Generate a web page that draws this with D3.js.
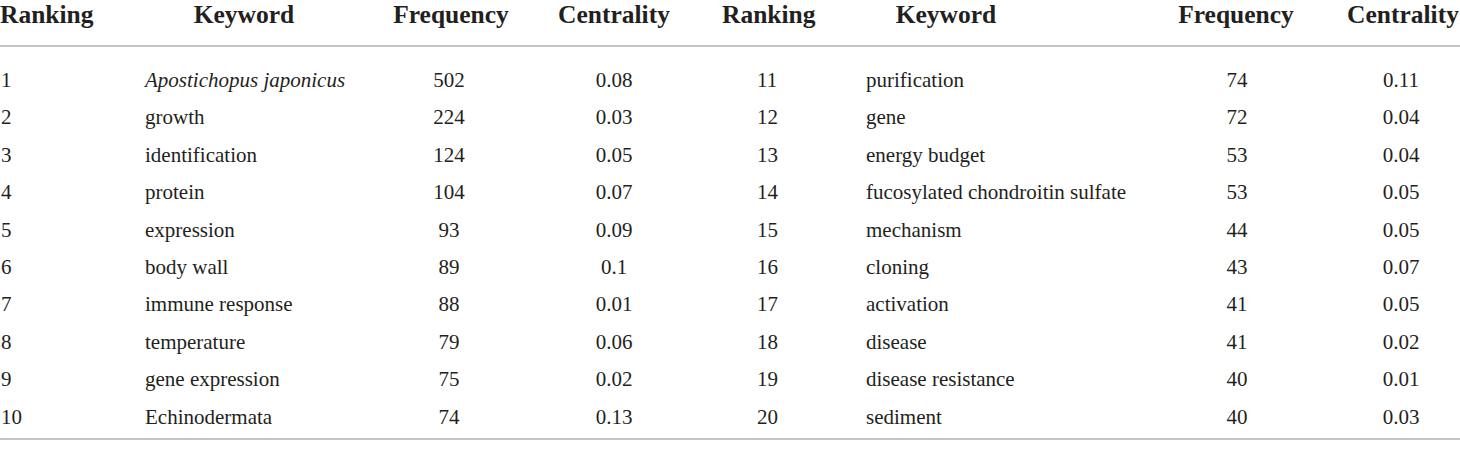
<!DOCTYPE html>
<html>
<head>
<meta charset="utf-8">
<script src="https://cdn.jsdelivr.net/npm/d3@7"></script>
<style>
  html, body { margin: 0; padding: 0; background: #fff; }
  svg { display: block; }
</style>
</head>
<body>
<div id="container"></div>
<script>
"use strict";

// table data
const headers = ["Ranking", "Keyword", "Frequency", "Centrality"];
const rankings = [1, 2, 3, 4, 5, 6, 7, 8, 9, 10, 11, 12, 13, 14, 15, 16, 17, 18, 19, 20];
const keywords = [
    "Apostichopus japonicus", "growth", "identification", "protein", "expression",
    "body wall", "immune response", "temperature", "gene expression", "Echinodermata",
    "purification", "gene", "energy budget", "fucosylated chondroitin sulfate", "mechanism",
    "cloning", "activation", "disease", "disease resistance", "sediment"
];
const frequencies = [502, 224, 124, 104, 93, 89, 88, 79, 75, 74, 74, 72, 53, 53, 44, 43, 41, 41, 40, 40];
const centralities = ["0.08", "0.03", "0.05", "0.07", "0.09", "0.1", "0.01", "0.06", "0.02", "0.13",
    "0.11", "0.04", "0.04", "0.05", "0.05", "0.07", "0.05", "0.02", "0.01", "0.03"];
const italicKeywords = ["Apostichopus japonicus"];

const width = 1460, height = 450;
const rowsPerHalf = 10;

const svg = d3.select("#container")
    .append("svg")
    .attr("width", width)
    .attr("height", height)
    .style("font-family", "'Liberation Serif', 'Times New Roman', serif")
    .style("fill", "#231f20");

// row positions
const y = d3.scalePoint()
    .domain(d3.range(rowsPerHalf))
    .range([80, 417]);

// column layout for each half: header anchor + cell anchor
const halves = [
    { offset: 0, cols: [
        { hx: 0, hAnchor: "start", cx: 1, cAnchor: "start" },
        { hx: 244, hAnchor: "middle", cx: 145, cAnchor: "start" },
        { hx: 451, hAnchor: "middle", cx: 449, cAnchor: "middle" },
        { hx: 614, hAnchor: "middle", cx: 614, cAnchor: "middle" }
    ] },
    { offset: 10, cols: [
        { hx: 722, hAnchor: "start", cx: 757, cAnchor: "start" },
        { hx: 946, hAnchor: "middle", cx: 866, cAnchor: "start" },
        { hx: 1236, hAnchor: "middle", cx: 1237, cAnchor: "middle" },
        { hx: 1403, hAnchor: "middle", cx: 1401, cAnchor: "middle" }
    ] }
];

// rules
svg.selectAll("line.rule")
    .data([46, 439])
    .join("line")
    .attr("class", "rule")
    .attr("x1", 0)
    .attr("x2", width)
    .attr("y1", (d) => d)
    .attr("y2", (d) => d)
    .style("stroke", "#c4c4c4")
    .style("stroke-width", 2);

halves.forEach((half) => {
    // headers
    svg.append("g")
        .selectAll("text")
        .data(headers)
        .join("text")
        .attr("x", (d, i) => half.cols[i].hx)
        .attr("y", 23)
        .attr("text-anchor", (d, i) => half.cols[i].hAnchor)
        .style("font-size", "25.5px")
        .style("font-weight", "bold")
        .text((d) => d);

    // body rows
    const rows = d3.range(rowsPerHalf).map((r) => {
        const k = half.offset + r;
        return [rankings[k], keywords[k], frequencies[k], centralities[k]];
    });

    svg.append("g")
        .selectAll("g")
        .data(rows)
        .join("g")
        .attr("transform", (d, r) => `translate(0, ${y(r)})`)
        .selectAll("text")
        .data((d) => d)
        .join("text")
        .attr("x", (d, i) => half.cols[i].cx)
        .attr("dy", "0.32em")
        .attr("text-anchor", (d, i) => half.cols[i].cAnchor)
        .style("font-size", "21px")
        .style("font-style", (d, i) => (i === 1 && italicKeywords.includes(d) ? "italic" : "normal"))
        .text((d) => d);
});
</script>
</body>
</html>
